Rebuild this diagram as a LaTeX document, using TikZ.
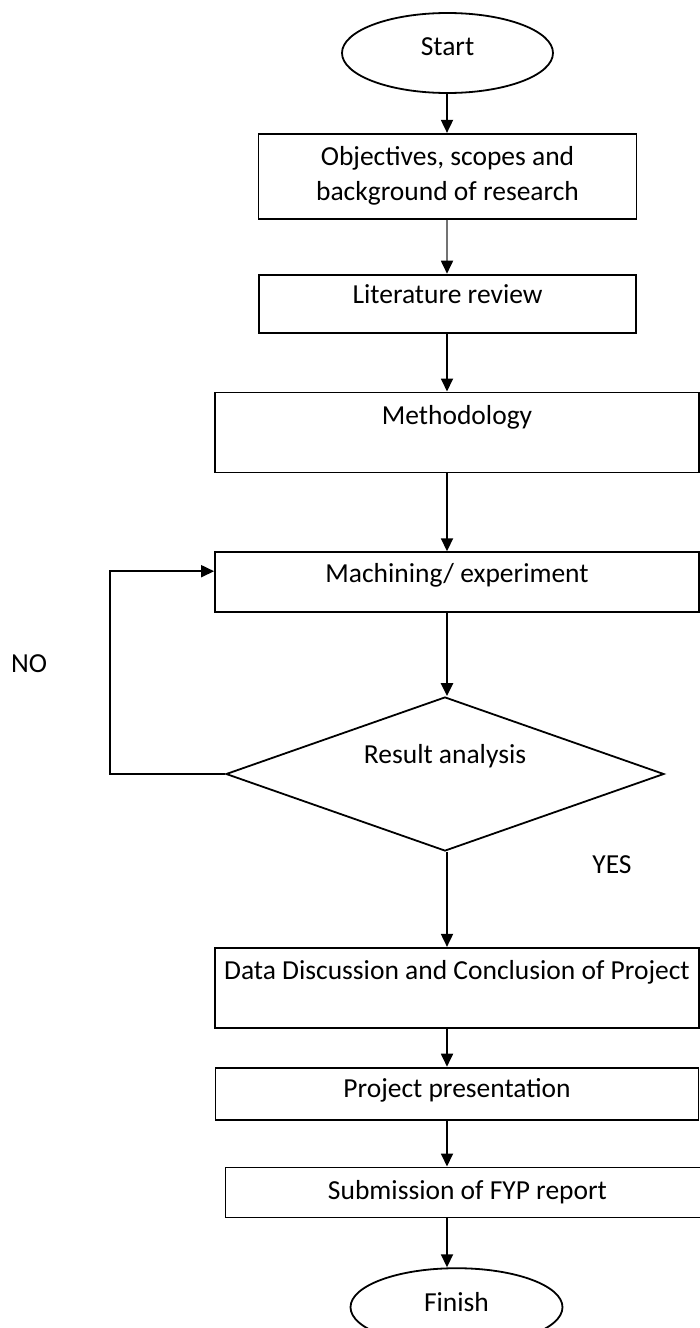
\documentclass[tikz,border=0pt]{standalone}
\usepackage{fontspec}
\setmainfont{Carlito}
\usepackage{tikz}
\usetikzlibrary{shapes.geometric, arrows.meta, positioning}

\begin{document}
\begin{tikzpicture}[
    x=1pt, y=-1pt,
    every node/.style={font=\fontsize{27.5}{35}\selectfont},
    box/.style={rectangle, draw, line width=1.8pt, minimum width=484pt, align=center, inner sep=0pt},
    term/.style={ellipse, draw, line width=1.8pt, minimum width=211pt, minimum height=80pt, inner sep=0pt},
    decision/.style={diamond, draw, line width=1.8pt, minimum width=438pt, minimum height=154pt, shape aspect=2.84, inner sep=0pt},
    lift/.style={text height=20pt, text depth=#1},
    arrow/.style={-{Triangle[length=13pt, width=12pt, color=black]}, line width=1.8pt},
]
\useasboundingbox (0,0) rectangle (700,1328);
\clip (0,0) rectangle (700,1328);
\coordinate (spine) at (447,0);
\coordinate (back) at (110,0);
\node[term, lift=16pt] (start) at (447.5,53) {Start};
\node[box, minimum width=378pt, minimum height=85pt, below=39pt of start] (obj) {Objectives, scopes and\\background of research};
\node[box, minimum width=377pt, minimum height=58pt, lift=20pt, below=54pt of obj] (lit) {Literature review};
\node[box, minimum height=80pt, lift=36pt, below=58pt of lit, xshift=9.5pt] (meth) {Methodology};
\node[box, minimum height=60pt, lift=20pt, below=78pt of meth] (mach) {Machining/ experiment};
\node[decision, lift=42pt, below=83pt of mach, xshift=-12pt] (result) {Result analysis};
\node[box, minimum height=80pt, lift=36pt, below=95pt of result, xshift=12pt] (data) {Data Discussion and Conclusion of Project};
\node[box, minimum width=483pt, minimum height=52pt, lift=12pt, below=38pt of data] (pres) {Project presentation};
\node[box, minimum height=50pt, below=46pt of pres, xshift=10.5pt] (subm) {Submission of FYP report};
\node[term, minimum width=212pt, minimum height=78pt, lift=12pt, below=49pt of subm, xshift=-11pt] (finish) {Finish};
\node (no) at (29,664) {NO};
\node (yes) at (612,865) {YES};
\draw[arrow] (start.south -| spine) -- (obj.north -| spine);
\draw[arrow, draw=black!55] (obj.south -| spine) -- (lit.north -| spine);
\draw[arrow] (lit.south -| spine) -- (meth.north -| spine);
\draw[arrow] (meth.south -| spine) -- (mach.north -| spine);
\draw[arrow, line width=2.6pt] (mach.south -| spine) -- (result.north -| spine);
\draw[arrow] (result.west) -- (result.west -| back) |- ([yshift=11pt]mach.west);
\draw[arrow] (result.south -| spine) -- (data.north -| spine);
\draw[arrow] (data.south -| spine) -- (pres.north -| spine);
\draw[arrow] (pres.south -| spine) -- (subm.north -| spine);
\draw[arrow] (subm.south -| spine) -- (finish.north -| spine);
\end{tikzpicture}
\end{document}
